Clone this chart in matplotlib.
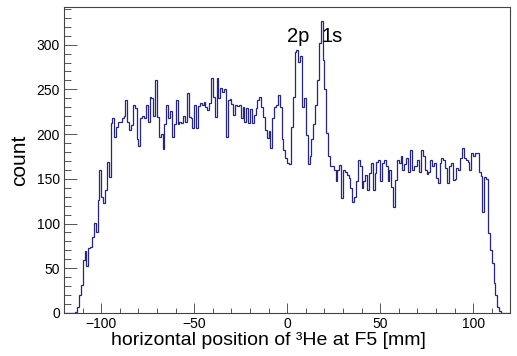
import matplotlib
matplotlib.use("Agg")
import matplotlib.pyplot as plt
import numpy as np
from matplotlib.ticker import MultipleLocator, FuncFormatter

plt.rcParams['font.family'] = ['Liberation Sans', 'DejaVu Sans']

# histogram: 1 mm bins from -120 to 120; counts for bins starting at -114 .. 114
first_bin = -114
counts = [
    1, 7, 20, 31, 59, 69, 52, 73, 74, 85,            # -114 .. -105
    101, 91, 126, 160, 130, 123, 138, 169, 152, 212, # -104 .. -95
    218, 197, 208, 214, 213, 218, 220, 238, 214, 205, # -94 .. -85
    210, 232, 229, 194, 187, 218, 220, 218, 232, 214, # -84 .. -75
    242, 240, 220, 260, 219, 197, 200, 183, 211, 233, # -74 .. -65
    218, 226, 197, 211, 238, 211, 214, 212, 220, 214, # -64 .. -55
    246, 219, 218, 207, 233, 207, 231, 235, 232, 236, # -54 .. -45
    230, 227, 235, 263, 242, 219, 263, 240, 252, 247, # -44 .. -35
    250, 197, 238, 239, 234, 221, 232, 231, 232, 218, # -34 .. -25
    230, 214, 229, 212, 228, 212, 221, 229, 238, 242, # -24 .. -15
    230, 219, 205, 196, 203, 184, 218, 230, 233, 244, # -14 .. -5
    230, 194, 182, 173, 168, 167, 208, 242, 292, 294, # -4 .. 5
    281, 287, 230, 240, 199, 167, 175, 194, 211, 233, # 6 .. 15
    261, 302, 326, 283, 250, 201, 175, 164, 164, 160, # 16 .. 25
    147, 160, 165, 128, 160, 158, 154, 151, 140, 124, # 26 .. 35
    130, 148, 171, 164, 140, 148, 154, 138, 156, 168, # 36 .. 45
    138, 156, 169, 171, 148, 168, 171, 164, 148, 160, # 46 .. 55
    141, 119, 149, 171, 168, 175, 160, 166, 173, 158, # 56 .. 65
    182, 160, 164, 164, 171, 158, 182, 175, 160, 155, # 66 .. 75
    158, 171, 164, 168, 151, 145, 168, 173, 171, 162, # 76 .. 85
    145, 164, 168, 149, 150, 162, 160, 173, 184, 173, # 86 .. 95
    171, 169, 160, 179, 175, 179, 179, 158, 153, 113, # 96 .. 105
    152, 150, 89, 70, 56, 34, 20, 7, 2,               # 106 .. 114
]

x_min, x_max = -120, 120
edges = np.arange(x_min, x_max + 1, 1)
values = np.zeros(len(edges) - 1)
start = first_bin - x_min
values[start:start + len(counts)] = counts

peak_labels = ["2p", "1s"]
peak_label_x = [5.8, 24.3]
peak_label_y = [299, 299]

fig = plt.figure(figsize=(5.17, 3.56), dpi=100)
ax = fig.add_axes([0.124, 0.121, 0.863, 0.859])

ax.stairs(values, edges, color='#26267d', linewidth=0.9, baseline=0)

ax.set_xlim(x_min, x_max)
ax.set_ylim(0, 342)

ax.xaxis.set_major_locator(MultipleLocator(50))
ax.xaxis.set_minor_locator(MultipleLocator(10))
ax.yaxis.set_major_locator(MultipleLocator(50))
ax.yaxis.set_minor_locator(MultipleLocator(10))

ax.tick_params(axis='both', which='both', direction='in', top=False, right=False,
               labelsize=10, color='#555555', width=0.7)
ax.tick_params(axis='y', which='major', length=9)
ax.tick_params(axis='y', which='minor', length=5)
ax.tick_params(axis='x', which='major', length=7)
ax.tick_params(axis='x', which='minor', length=3.7)
ax.tick_params(axis='x', pad=3)
ax.tick_params(axis='y', pad=3)

for sp in ax.spines.values():
    sp.set_color('#444444')
    sp.set_linewidth(0.8)

ax.xaxis.set_major_formatter(FuncFormatter(
    lambda v, p: ("\u2212%d" % -v) if v < 0 else "%d" % v))

ax.set_xlabel("horizontal position of \u00b3He at F5 [mm]", fontsize=14, labelpad=1)
ax.xaxis.label.set_x(0.457)
ax.set_ylabel("count", fontsize=15, labelpad=5)

for lab, lx, ly in zip(peak_labels, peak_label_x, peak_label_y):
    ax.text(lx, ly, lab, fontsize=14.5, ha='center', va='bottom')

fig.savefig("out.png", dpi=100)
